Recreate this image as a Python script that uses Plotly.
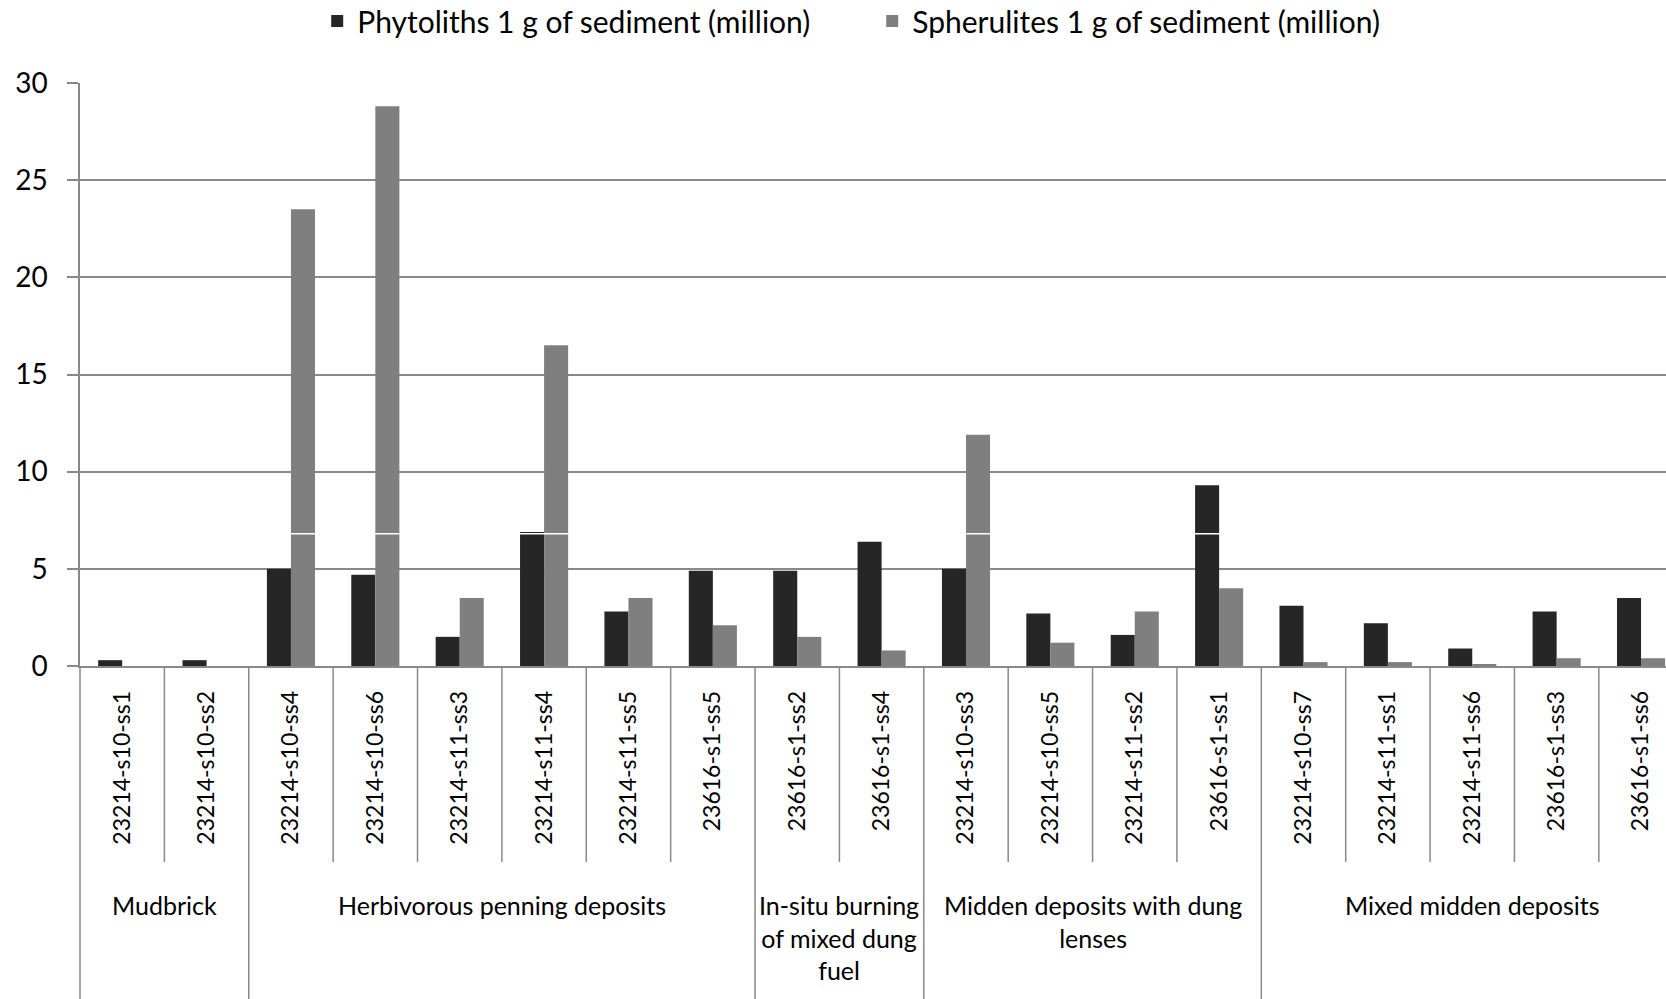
import plotly.graph_objects as go

samples = ["23214-s10-ss1", "23214-s10-ss2",
           "23214-s10-ss4", "23214-s10-ss6", "23214-s11-ss3", "23214-s11-ss4", "23214-s11-ss5", "23616-s1-ss5",
           "23616-s1-ss2", "23616-s1-ss4",
           "23214-s10-ss3", "23214-s10-ss5", "23214-s11-ss2", "23616-s1-ss1",
           "23214-s10-ss7", "23214-s11-ss1", "23214-s11-ss6", "23616-s1-ss3", "23616-s1-ss6"]
groups = ["Mudbrick"] * 2 + ["Herbivorous penning deposits"] * 6 + \
         ["In-situ burning<br>of mixed dung<br>fuel"] * 2 + \
         ["Midden deposits with dung<br>lenses"] * 4 + ["Mixed midden deposits"] * 5
phytoliths = [0.3, 0.3, 5.0, 4.7, 1.5, 6.9, 2.8, 4.9, 4.9, 6.4, 5.0, 2.7, 1.6, 9.3, 3.1, 2.2, 0.9, 2.8, 3.5]
spherulites = [0.0, 0.0, 23.5, 28.8, 3.5, 16.5, 3.5, 2.1, 1.5, 0.8, 11.9, 1.2, 2.8, 4.0, 0.2, 0.2, 0.1, 0.4, 0.4]
series_names = ["Phytoliths 1 g of sediment (million)", "Spherulites 1 g of sediment (million)"]
y_ticks = [0, 5, 10, 15, 20, 25, 30]

FONT = "Lato"
GRID = "#898989"
W, H = 1666, 999
ML, MT, MB = 80, 83, 333
PH = H - MT - MB

fig = go.Figure()
fig.add_trace(go.Bar(x=samples, y=phytoliths, name=series_names[0],
                     marker=dict(color="#262626", line=dict(width=0))))
fig.add_trace(go.Bar(x=samples, y=spherulites, name=series_names[1],
                     marker=dict(color="#7f7f7f", line=dict(width=0))))

def py(px_from_top):
    return (H - MB - px_from_top) / PH

shapes = []
# white artifact line crossing the bars
shapes.append(dict(type="line", xref="paper", yref="y", x0=0, x1=1, y0=6.8, y1=6.8,
                   line=dict(color="white", width=1.5), layer="above"))
# left axis extension to bottom
shapes.append(dict(type="line", xref="paper", yref="paper", x0=0, x1=0, y0=0, y1=py(H),
                   line=dict(color=GRID, width=1.5)))
# dividers
bounds = []
start = 0
for i in range(1, len(groups) + 1):
    if i == len(groups) or groups[i] != groups[start]:
        bounds.append((start, i - 1))
        start = i
group_edges = set(b[0] for b in bounds)
for i in range(1, len(samples)):
    long = i in group_edges
    shapes.append(dict(type="line", xref="x", yref="paper", x0=i - 0.5, x1=i - 0.5,
                       y0=0, y1=py(H) if long else py(862),
                       line=dict(color=GRID, width=1.5)))

annotations = []
for s, e in bounds:
    annotations.append(dict(x=(s + e) / 2, xref="x", y=py(888), yref="paper",
                            text=groups[s], showarrow=False, xanchor="center", yanchor="top",
                            align="center", font=dict(family=FONT, size=25, color="#000")))

fig.update_layout(
    width=W, height=H,
    margin=dict(l=ML, r=0, t=MT, b=MB, autoexpand=False),
    paper_bgcolor="white", plot_bgcolor="white",
    barmode="group", bargap=0.43, bargroupgap=0,
    font=dict(family=FONT, color="#000"),
    legend=dict(orientation="h", x=0.4995, xanchor="center", y=py(21), yanchor="middle",
                font=dict(family=FONT, size=30, color="#000"), traceorder="normal",
                entrywidth=510, entrywidthmode="pixels"),
    showlegend=True,
    shapes=shapes, annotations=annotations,
)
fig.update_xaxes(type="category", range=[-0.5, 18.296], tickangle=-90, ticks="",
                 tickfont=dict(family=FONT, size=23, color="#000"),
                 showline=True, linecolor=GRID, linewidth=1.5, showgrid=False,
                 ticklabelstandoff=14)
fig.update_yaxes(range=[0, 30], tickvals=y_ticks, ticks="outside", ticklen=11, tickcolor=GRID,
                 tickwidth=1.5, showline=True, linecolor=GRID, linewidth=1.5,
                 showgrid=True, gridcolor=GRID, gridwidth=1.5, zeroline=False,
                 tickfont=dict(family=FONT, size=28, color="#000"), ticklabelstandoff=14)

fig.write_html("out.html", config={"displayModeBar": False},
               post_script="document.body.style.margin='0';")
